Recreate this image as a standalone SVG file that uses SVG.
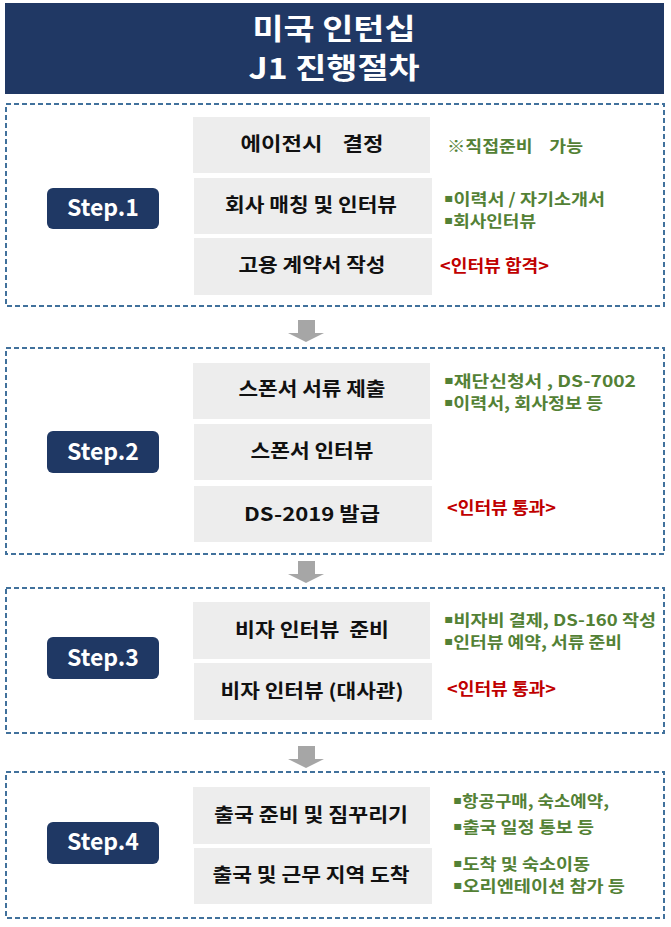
<svg xmlns="http://www.w3.org/2000/svg" width="671" height="927" viewBox="0 0 671 927">
<style>
text{font-family:"Noto Sans CJK KR","Noto Sans",sans-serif;font-weight:700}
.frame{fill:#fff;stroke:#41719c;stroke-width:2;stroke-dasharray:5 3}
.pill{fill:#1f3864}
.pt{fill:#fff;font-size:23px;text-anchor:middle}
.box{fill:#ededed}
.bt{fill:#111;font-size:19px;text-anchor:middle}
.g{fill:#538135;font-size:16px}
.r{fill:#c00000;font-size:17px}
.b{font-family:"DejaVu Sans",sans-serif;font-size:12px}
.arr{fill:#a6a6a6}
</style>
<rect width="671" height="927" fill="#fff"/>
<g id="title">
<rect x="5" y="3" width="659" height="91" fill="#203864"/>
<text x="334" y="40" fill="#fff" font-size="29" text-anchor="middle" textLength="163" lengthAdjust="spacingAndGlyphs">미국 인턴십</text>
<text x="334" y="79" fill="#fff" font-size="29" text-anchor="middle" textLength="171" lengthAdjust="spacingAndGlyphs">J1 진행절차</text>
</g>
<g id="connectors">
<polygon class="arr" points="298,320 315,320 315,333 324,333 306,342 288,333 298,333"/>
<polygon class="arr" points="298,561 315,561 315,574 324,574 306,583 288,574 298,574"/>
<polygon class="arr" points="298,746 315,746 315,759 324,759 306,768 288,759 298,759"/>
</g>
<g id="step1">
<rect class="frame" x="6" y="104" width="658" height="202"/>
<rect class="pill" x="47" y="188" width="112" height="41" rx="6"/>
<text class="pt" x="103" y="216">Step.1</text>
<rect class="box" x="193" y="117" width="237" height="56"/>
<text class="bt" x="312" y="151" xml:space="preserve" textLength="143" lengthAdjust="spacingAndGlyphs">에이전시    결정</text>
<rect class="box" x="194" y="178" width="238" height="56"/>
<text class="bt" x="311" y="212" textLength="172" lengthAdjust="spacingAndGlyphs">회사 매칭 및 인터뷰</text>
<rect class="box" x="194" y="238" width="238" height="57"/>
<text class="bt" x="312" y="272" textLength="147" lengthAdjust="spacingAndGlyphs">고용 계약서 작성</text>
<text class="g" x="447" y="152" xml:space="preserve" textLength="136" lengthAdjust="spacingAndGlyphs">※직접준비    가능</text>
<text class="g" x="444" y="205" textLength="161" lengthAdjust="spacingAndGlyphs"><tspan class="b" dy="-3">▪</tspan><tspan dy="3">이력서 / 자기소개서</tspan></text>
<text class="g" x="444" y="227" textLength="92" lengthAdjust="spacingAndGlyphs"><tspan class="b" dy="-3">▪</tspan><tspan dy="3">회사인터뷰</tspan></text>
<text class="r" x="440" y="272" textLength="109" lengthAdjust="spacingAndGlyphs">&lt;인터뷰 합격&gt;</text>
</g>
<g id="step2">
<rect class="frame" x="6" y="348" width="658" height="206"/>
<rect class="pill" x="47" y="431" width="112" height="42" rx="6"/>
<text class="pt" x="103" y="460">Step.2</text>
<rect class="box" x="193" y="363" width="237" height="56"/>
<text class="bt" x="312" y="396" textLength="147" lengthAdjust="spacingAndGlyphs">스폰서 서류 제출</text>
<rect class="box" x="194" y="424" width="238" height="56"/>
<text class="bt" x="312" y="458" textLength="123" lengthAdjust="spacingAndGlyphs">스폰서 인터뷰</text>
<rect class="box" x="194" y="486" width="238" height="56"/>
<text class="bt" x="312" y="521" textLength="136" lengthAdjust="spacingAndGlyphs">DS-2019 발급</text>
<text class="g" x="444" y="387" textLength="192" lengthAdjust="spacingAndGlyphs"><tspan class="b" dy="-3">▪</tspan><tspan dy="3">재단신청서 , DS-7002</tspan></text>
<text class="g" x="444" y="409" textLength="159" lengthAdjust="spacingAndGlyphs"><tspan class="b" dy="-3">▪</tspan><tspan dy="3">이력서, 회사정보 등</tspan></text>
<text class="r" x="447" y="514" textLength="109" lengthAdjust="spacingAndGlyphs">&lt;인터뷰 통과&gt;</text>
</g>
<g id="step3">
<rect class="frame" x="6" y="588" width="658" height="145"/>
<rect class="pill" x="47" y="637" width="112" height="42" rx="6"/>
<text class="pt" x="103" y="666">Step.3</text>
<rect class="box" x="193" y="602" width="237" height="57"/>
<text class="bt" x="312" y="637" xml:space="preserve" textLength="154" lengthAdjust="spacingAndGlyphs">비자 인터뷰  준비</text>
<rect class="box" x="194" y="663" width="238" height="57"/>
<text class="bt" x="312" y="698" textLength="183" lengthAdjust="spacingAndGlyphs">비자 인터뷰 (대사관)</text>
<text class="g" x="444" y="626" textLength="212" lengthAdjust="spacingAndGlyphs"><tspan class="b" dy="-3">▪</tspan><tspan dy="3">비자비 결제, DS-160 작성</tspan></text>
<text class="g" x="444" y="648" textLength="178" lengthAdjust="spacingAndGlyphs"><tspan class="b" dy="-3">▪</tspan><tspan dy="3">인터뷰 예약, 서류 준비</tspan></text>
<text class="r" x="447" y="695" textLength="109" lengthAdjust="spacingAndGlyphs">&lt;인터뷰 통과&gt;</text>
</g>
<g id="step4">
<rect class="frame" x="6" y="772" width="658" height="146"/>
<rect class="pill" x="47" y="822" width="112" height="42" rx="6"/>
<text class="pt" x="103" y="850">Step.4</text>
<rect class="box" x="193" y="787" width="237" height="57"/>
<text class="bt" x="311" y="822" textLength="194" lengthAdjust="spacingAndGlyphs">출국 준비 및 짐꾸리기</text>
<rect class="box" x="194" y="848" width="238" height="56"/>
<text class="bt" x="311" y="882" textLength="197" lengthAdjust="spacingAndGlyphs">출국 및 근무 지역 도착</text>
<text class="g" x="453" y="807" textLength="156" lengthAdjust="spacingAndGlyphs"><tspan class="b" dy="-3">▪</tspan><tspan dy="3">항공구매, 숙소예약,</tspan></text>
<text class="g" x="453" y="833" textLength="141" lengthAdjust="spacingAndGlyphs"><tspan class="b" dy="-3">▪</tspan><tspan dy="3">출국 일정 통보 등</tspan></text>
<text class="g" x="453" y="870" textLength="137" lengthAdjust="spacingAndGlyphs"><tspan class="b" dy="-3">▪</tspan><tspan dy="3">도착 및 숙소이동</tspan></text>
<text class="g" x="453" y="892" textLength="172" lengthAdjust="spacingAndGlyphs"><tspan class="b" dy="-3">▪</tspan><tspan dy="3">오리엔테이션 참가 등</tspan></text>
</g>
</svg>
